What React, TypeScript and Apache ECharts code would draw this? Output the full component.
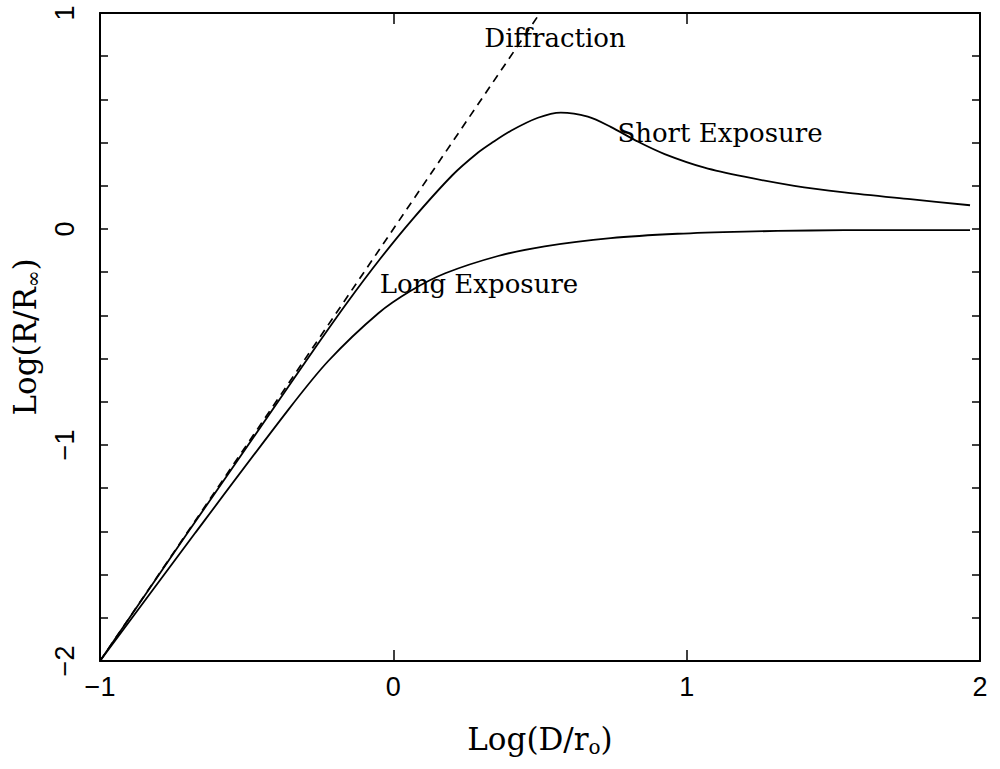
import React, { useEffect, useRef } from "react";
import * as echarts from "echarts";

// Axis ranges / ticks
const xTickValues = [-1, 0, 1, 2];
const yTickValues = [-2, -1, 0, 1];

// Diffraction limit (dashed)
const diffractionX = [-1, 0.5];
const diffractionY = [-2, 1];

// Short exposure curve
const shortX = [-1, -0.703, -0.378, -0.264, -0.157, -0.046, 0.066, 0.202, 0.289, 0.337, 0.401, 0.493, 0.571, 0.663, 0.741, 0.833, 0.925, 1.061, 1.197, 1.367, 1.537, 1.762, 1.966];
const shortY = [-2, -1.41, -0.77, -0.545, -0.34, -0.14, 0.046, 0.25, 0.354, 0.4, 0.455, 0.515, 0.539, 0.52, 0.473, 0.405, 0.347, 0.284, 0.242, 0.2, 0.17, 0.138, 0.11];

// Long exposure curve
const longX = [-1, -0.677, -0.357, -0.221, -0.051, 0.061, 0.177, 0.357, 0.516, 0.741, 0.969, 1.197, 1.422, 1.65, 1.966];
const longY = [-2, -1.41, -0.835, -0.61, -0.39, -0.285, -0.205, -0.125, -0.08, -0.042, -0.022, -0.012, -0.007, -0.005, -0.005];

const labels = ["Diffraction", "Short Exposure", "Long Exposure"];

const SERIF = "DejaVu Serif";
const SANS = "Liberation Sans";

const fmt = (v: number) => (v < 0 ? "\u2212" + Math.abs(v) : String(v));

export default function App() {
  const ref = useRef<HTMLDivElement>(null);
  useEffect(() => {
    if (!ref.current) return;
    const chart = echarts.init(ref.current, undefined, { renderer: "svg" });
    const pair = (xs: number[], ys: number[]) => xs.map((x, i) => [x, ys[i]]);
    const axisLine = { show: true, onZero: false, lineStyle: { color: "#000", width: 2 } };
    const rich = {
      a: { fontSize: 31, fontFamily: SERIF, color: "#000", lineHeight: 34, verticalAlign: "top" },
      s: { fontSize: 20, fontFamily: SERIF, color: "#000", lineHeight: 20, padding: [17, 0, 0, 0], verticalAlign: "bottom" },
    };
    chart.setOption({
      animation: false,
      backgroundColor: "#fff",
      grid: { left: 100, right: 20, top: 13, bottom: 108, show: false, containLabel: false, outerBoundsMode: "none" },
      xAxis: [
        {
          type: "value",
          min: xTickValues[0],
          max: xTickValues[xTickValues.length - 1],
          interval: 1,
          position: "bottom",
          axisLine,
          axisTick: { show: true, inside: true, length: 11, lineStyle: { color: "#000", width: 1.5 } },
          axisLabel: { formatter: fmt, fontFamily: SANS, fontSize: 27, color: "#000", margin: 12 },
          splitLine: { show: false },
          name: "{a|Log(D/r}{s|o}{a|)}",
          nameLocation: "middle",
          nameGap: 62,
          nameTextStyle: { rich },
        },
        {
          type: "value",
          min: xTickValues[0],
          max: xTickValues[xTickValues.length - 1],
          interval: 1,
          position: "top",
          axisLine,
          axisTick: { show: true, inside: true, length: 11, lineStyle: { color: "#000", width: 1.5 } },
          axisLabel: { show: false },
          splitLine: { show: false },
        },
      ],
      yAxis: [
        {
          type: "value",
          min: yTickValues[0],
          max: yTickValues[yTickValues.length - 1],
          interval: 1,
          position: "left",
          axisLine,
          axisTick: { show: true, inside: true, length: 8, lineStyle: { color: "#000", width: 1.5 } },
          minorTick: { show: true, splitNumber: 5, length: 8, lineStyle: { color: "#000", width: 1.5 } },
          axisLabel: { formatter: fmt, fontFamily: SANS, fontSize: 27, color: "#000", rotate: 90, margin: 22 },
          splitLine: { show: false },
          name: "{a|Log(R/R}{s|\u221e}{a|)}",
          nameLocation: "middle",
          nameGap: 57,
          nameRotate: 90,
          nameTextStyle: { rich },
        },
        {
          type: "value",
          min: yTickValues[0],
          max: yTickValues[yTickValues.length - 1],
          interval: 1,
          position: "right",
          axisLine,
          axisTick: { show: true, inside: true, length: 8, lineStyle: { color: "#000", width: 1.5 } },
          minorTick: { show: true, splitNumber: 5, length: 8, lineStyle: { color: "#000", width: 1.5 } },
          axisLabel: { show: false },
          splitLine: { show: false },
        },
      ],
      series: [
        {
          name: labels[0],
          type: "line",
          data: pair(diffractionX, diffractionY),
          showSymbol: false,
          symbol: "none",
          lineStyle: { color: "#000", width: 1.7, type: [8, 6] },
        },
        {
          name: labels[1],
          type: "line",
          data: pair(shortX, shortY),
          showSymbol: false,
          symbol: "none",
          smooth: 0.3,
          lineStyle: { color: "#000", width: 1.8 },
        },
        {
          name: labels[2],
          type: "line",
          data: pair(longX, longY),
          showSymbol: false,
          symbol: "none",
          smooth: 0.3,
          lineStyle: { color: "#000", width: 1.8 },
        },
      ],
      graphic: [
        { type: "text", x: 555, y: 38, style: { text: labels[0], font: `26px "${SERIF}"`, fill: "#000", textAlign: "center", textVerticalAlign: "middle" } },
        { type: "text", x: 720, y: 133, style: { text: labels[1], font: `26px "${SERIF}"`, fill: "#000", textAlign: "center", textVerticalAlign: "middle" } },
        { type: "text", x: 479, y: 284, style: { text: labels[2], font: `26px "${SERIF}"`, fill: "#000", textAlign: "center", textVerticalAlign: "middle" } },
      ],
    });
    return () => chart.dispose();
  }, []);
  return <div ref={ref} style={{ position: "fixed", left: 0, top: 0, width: 1000, height: 769, background: "#fff" }} />;
}
